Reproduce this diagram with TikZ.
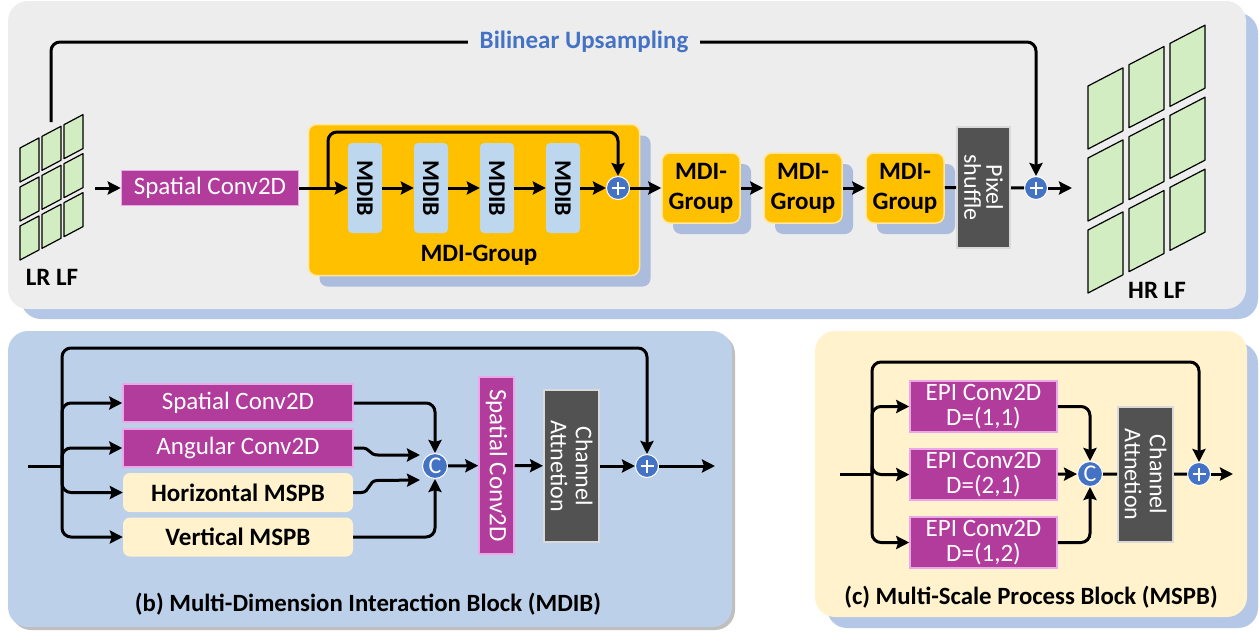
\documentclass[tikz,border=0pt]{standalone}
\usepackage{fontspec}
\setmainfont{Carlito}
\usepackage{xcolor}
\usetikzlibrary{calc,shadows,arrows.meta}

\definecolor{panelgray}{HTML}{EDEDED}
\definecolor{panelshadow}{HTML}{B4C7E7}
\definecolor{mdibpanel}{HTML}{BCD0E9}
\definecolor{mspbpanel}{HTML}{FFF2CC}
\definecolor{convfill}{HTML}{B13C9B}
\definecolor{convline}{HTML}{EBA8E8}
\definecolor{grpfill}{HTML}{FFC000}
\definecolor{grpline}{HTML}{FFE699}
\definecolor{grpshadow}{HTML}{ABBCDD}
\definecolor{mdibfill}{HTML}{BDD7EE}
\definecolor{darkfill}{HTML}{525252}
\definecolor{darkline}{HTML}{D9D9D9}
\definecolor{opblue}{HTML}{4472C4}
\definecolor{cellgreen}{HTML}{D3EDC2}

\tikzset{
  % connectors
  flow/.style={line width=3pt, -{Stealth[length=13pt,width=13pt,inset=2pt]}, rounded corners=9pt},
  wire/.style={line width=3pt, rounded corners=9pt},
  bend flow/.style={line width=3pt, -{Stealth[length=13pt,width=13pt,inset=2pt]}, sharp corners},
  % light field views
  cell/.style={fill=cellgreen, draw=black, line width=1.2pt, line join=round},
  % blocks
  conv/.style={draw=convline, fill=convfill, line width=1.5pt, text=white, inner sep=0pt,
    font=\fontsize{25}{25}\selectfont, align=center},
  grp/.style={draw=grpline, fill=grpfill, line width=1.5pt, rounded corners=8pt, inner sep=0pt},
  gshadow/.style={drop shadow={shadow xshift=11pt, shadow yshift=-11pt, fill=grpshadow, opacity=1}},
  sgrp/.style={minimum width=78pt, minimum height=70pt, align=center,
    font=\fontsize{25}{30}\selectfont\bfseries},
  mdib/.style={fill=mdibfill, rounded corners=4pt, minimum width=90pt, minimum height=34pt,
    inner sep=0pt, rotate=-90, font=\fontsize{24}{24}\selectfont\bfseries},
  mspb/.style={fill=mspbpanel, rounded corners=7pt, inner sep=0pt,
    minimum width=230pt, minimum height=39pt, font=\fontsize{25}{25}\selectfont\bfseries},
  dark/.style={draw=darkline, fill=darkfill, line width=2pt, text=white, inner sep=0pt,
    rotate=-90, align=center},
  % operators
  plus/.style={circle, fill=opblue, draw=white, line width=1pt, minimum size=23pt, inner sep=0pt,
    path picture={\draw[white, line width=2.6pt]
      ([xshift=-6.5pt]path picture bounding box.center) -- ([xshift=6.5pt]path picture bounding box.center)
      ([yshift=-6.5pt]path picture bounding box.center) -- ([yshift=6.5pt]path picture bounding box.center);}},
  cat/.style={circle, fill=opblue, draw=white, line width=1pt, minimum size=25pt, inner sep=0pt,
    text=white, font=\fontsize{24}{24}\selectfont},
  % texts
  lbl/.style={font=\fontsize{25}{25}\selectfont\bfseries},
  ttl/.style={font=\fontsize{24.8}{25}\selectfont\bfseries},
}

\begin{document}
\begin{tikzpicture}[x=1pt, y=-1pt]
  \useasboundingbox (0,0) rectangle (1259,632);
  % Draw the panels
  \fill[panelshadow, rounded corners=20pt] (21,13) rectangle (1258,319);
  \fill[panelgray, rounded corners=20pt] (8,1) rectangle (1246,309);
  \fill[black!25, rounded corners=20pt] (11,334) rectangle (735,630);
  \fill[mdibpanel, rounded corners=20pt] (8,331) rectangle (732,627);
  \fill[panelshadow, rounded corners=20pt] (827,343) rectangle (1258,628);
  \fill[mspbpanel, rounded corners=20pt] (815,331) rectangle (1247,617);

  % Draw the light fields
  \begin{scope}[shift={(20,260)}, x={(1pt,0.53pt)}, y={(0pt,1pt)}]
    \foreach \i in {0,1,2}
      \foreach \j in {0,1,2}
        \filldraw[cell] (22*\i,39*\j) -- ++(19,0) -- ++(0,34) -- ++(-19,0) -- cycle;
  \end{scope}
  \begin{scope}[shift={(1088,293)}, x={(1pt,0.52pt)}, y={(0pt,1pt)}]
    \foreach \i in {0,1,2}
      \foreach \j in {0,1,2}
        \filldraw[cell] (41*\i,72*\j) -- ++(35,0) -- ++(0,63) -- ++(-35,0) -- cycle;
  \end{scope}
  \node[lbl] (lrlbl) at (52,277) {LR LF};
  \node[lbl] (hrlbl) at (1157,290) {HR LF};

  % Top row
  \coordinate (lrout) at (95,188);
  \coordinate (upstart) at (51,122);
  \coordinate (hrin) at (1072,188);
  \node[conv, minimum width=177pt, minimum height=35pt] (sconv) at (210,188) {Spatial Conv2D};
  \node[grp, gshadow, minimum width=331pt, minimum height=151pt] (grp) at (474,200) {};
  \node[lbl] (grplbl) at (479,255) {MDI-Group};
  \foreach \k/\xx in {1/365,2/431,3/497,4/563}
    \node[mdib] (mdib\k) at (\xx,188) {MDIB};
  \coordinate (gsplit) at (328,188);
  \node[plus] (gplus) at (618,188) {};
  \foreach \k/\xx in {1/701,2/803,3/905}
    \node[grp, gshadow, sgrp] (sg\k) at (\xx,188) {MDI-\\Group};
  \node[dark, minimum width=121pt, minimum height=53pt,
    font=\fontsize{24}{22}\selectfont] (pshuf) at (983.5,187.5) {Pixel\\shuffle};
  \node[plus] (outplus) at (1036,188) {};

  \draw[flow] (lrout) -- (sconv);
  \draw[flow] (sconv) -- (mdib1);
  \foreach \a/\b in {1/2,2/3,3/4}
    \draw[flow] (mdib\a) -- (mdib\b);
  \draw[flow] (mdib4) -- (gplus);
  \draw[flow] (gsplit) -- ++(0,-56) -| (gplus);
  \draw[flow] (gplus) -- (sg1);
  \draw[flow] (sg1) -- (sg2);
  \draw[flow] (sg2) -- (sg3);
  \draw[wire] (sg3) -- (pshuf);
  \draw[wire] (pshuf) -- (outplus);
  \draw[flow] (outplus) -- (hrin);
  \draw[flow] (upstart) -- ++(0,-80) -| (outplus);
  \node[lbl, text=opblue, fill=panelgray, inner xsep=12pt] (uplbl) at (584,42) {Bilinear Upsampling};

  % (b) MDIB
  \coordinate (bin) at (28,466);
  \coordinate (bsplit) at (62,466);
  \coordinate (bout) at (715,466);
  \node[conv, minimum width=230pt, minimum height=38pt] (bsp) at (238,403) {Spatial Conv2D};
  \node[conv, minimum width=230pt, minimum height=38pt] (bang) at (238,448) {Angular Conv2D};
  \node[mspb] (bhor) at (238,492.5) {Horizontal MSPB};
  \node[mspb] (bver) at (238,537) {Vertical MSPB};
  \node[cat] (bcat) at (435,466) {C};
  \node[conv, rotate=-90, minimum width=177pt, minimum height=35pt] (bsconv) at (496.5,465.5) {Spatial Conv2D};
  \node[dark, minimum width=152pt, minimum height=55pt,
    font=\fontsize{24}{25}\selectfont] (bca) at (571.5,466) {Channel\\Attnetion};
  \node[plus] (bplus) at (647,466) {};

  \draw[wire] (bin) -- (bsplit);
  \foreach \n in {bsp,bang,bhor,bver}
    \draw[flow] (bsplit) |- (\n);
  \draw[flow] (bsplit) -- ++(0,-118) -| (bplus);
  \draw[flow] (bsp) -| (bcat);
  \draw[bend flow] (bang.east) -- ++(8,0) .. controls +(9,0) and +(-9,0) .. ++(16,7) -- ($(bcat)+(-15,-11)$);
  \draw[bend flow] (bhor.east) -- ++(8,0) .. controls +(9,0) and +(-9,0) .. ++(16,-12) -- ($(bcat)+(-15,14)$);
  \draw[flow] (bver) -| (bcat);
  \draw[flow] (bcat) -- (bsconv);
  \draw[flow] (bsconv) -- (bca);
  \draw[flow] (bca) -- (bplus);
  \draw[flow] (bplus) -- (bout);
  \node[ttl] (btitle) at (368,604) {(b) Multi-Dimension Interaction Block (MDIB)};

  % (c) MSPB
  \coordinate (cin) at (840,474);
  \coordinate (csplit) at (872,474);
  \coordinate (cout) at (1233,474);
  \foreach \k/\yy/\d in {1/406.5/{(1,1)},2/474.5/{(2,1)},3/542.5/{(1,2)}}
    \node[conv, minimum width=147pt, minimum height=51pt] (epi\k) at (983.5,\yy) {EPI Conv2D\\D=\d};
  \node[cat] (ccat) at (1090,474) {C};
  \node[dark, minimum width=135pt, minimum height=55pt,
    font=\fontsize{24}{25}\selectfont] (cca) at (1145.5,474.5) {Channel\\Attnetion};
  \node[plus] (cplus) at (1199,474) {};

  \draw[wire] (cin) -- (csplit);
  \foreach \n in {epi1,epi2,epi3}
    \draw[flow] (csplit) |- (\n);
  \draw[flow] (csplit) -- ++(0,-112) -| (cplus);
  \draw[flow] (epi1) -| (ccat);
  \draw[flow] (epi2) -- (ccat);
  \draw[flow] (epi3) -| (ccat);
  \draw[wire] (ccat) -- (cca);
  \draw[wire] (cca) -- (cplus);
  \draw[flow] (cplus) -- (cout);
  \node[ttl] (ctitle) at (1031,597) {(c) Multi-Scale Process Block (MSPB)};
\end{tikzpicture}
\end{document}
